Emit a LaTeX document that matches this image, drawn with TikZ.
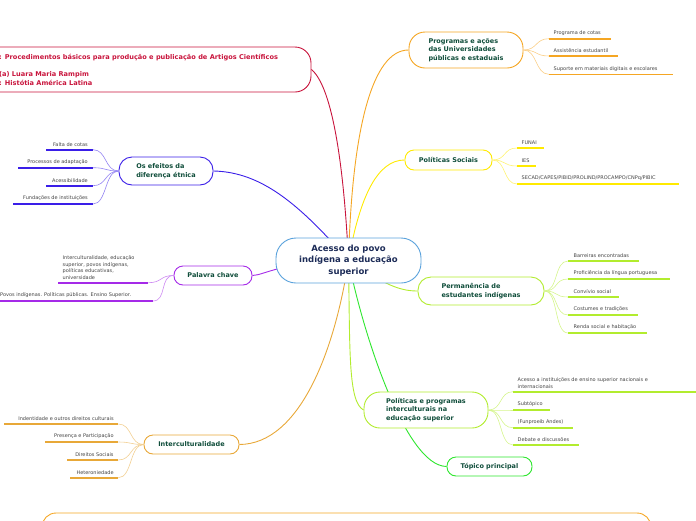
\documentclass[tikz,border=0pt]{standalone}
\usepackage{fontspec}
\setmainfont{DejaVu Sans}
\usetikzlibrary{backgrounds}
\definecolor{centralc}{HTML}{5AA2DC}
\definecolor{centraltext}{HTML}{1C2B57}
\definecolor{topictext}{HTML}{0F4D3A}
\definecolor{leaftext}{HTML}{444444}
\definecolor{infoc}{HTML}{C8143C}
\definecolor{progc}{HTML}{F5A623}
\definecolor{socialc}{HTML}{FFEA00}
\definecolor{limec}{HTML}{B2EC2E}
\definecolor{greenc}{HTML}{2EE62E}
\definecolor{bluec}{HTML}{3A1EE8}
\definecolor{purplec}{HTML}{A52AE8}
\definecolor{interc}{HTML}{E8A838}
\tikzset{central/.style={draw=centralc, line width=0.9pt, fill=white, rounded corners=20pt, minimum width=145pt, minimum height=45pt, align=center, text=centraltext, font=\bfseries\fontsize{8.5}{11.5}\selectfont},
  topic/.style={draw=#1, line width=0.9pt, fill=white, align=left, inner sep=0pt, text=topictext, font=\bfseries\fontsize{6.5}{8.5}\selectfont},
  leaf/.style={inner sep=0.5pt, align=left, text=leaftext, font=\fontsize{5}{6.6}\selectfont},
  under/.style={draw=#1, line width=1.6pt},
  branch/.style={draw=#1, line width=0.9pt},
  twig/.style={draw=#1!55, line width=0.6pt}}

\begin{document}
\begin{tikzpicture}[x=1pt, y=-1pt]
  \useasboundingbox (0,0) rectangle (696,520);
  \clip (0,0) rectangle (696,520);

  % main idea and its topics
  \node [central] (root) at (348.5,260.5) {Acesso do povo\\indígena a educação\\superior};
  \node [draw=infoc, line width=0.9pt, rounded corners=16pt, minimum width=360pt, minimum height=45pt] (info) at (131,69.5) {};
  \node [anchor=west, align=left, inner sep=0pt, text=infoc, font=\bfseries\fontsize{6.6}{8.5}\selectfont] (infotext) at (-1,70)
    {: Procedimentos básicos para produção e publicação de Artigos Científicos\\[8.5pt](a) Luara Maria Rampim\\: Histótia América Latina};
  \node [topic=progc, rounded corners=16pt, minimum width=114pt, minimum height=36pt] (prog) at (466,50) {Programas e ações\\das Universidades\\públicas e estaduais};
  \node [topic=socialc, rounded corners=9pt, minimum width=87pt, minimum height=20pt] (social) at (448.5,160) {Políticas Sociais};
  \node [topic=limec, rounded corners=13pt, minimum width=126pt, minimum height=28pt] (perm) at (481,291) {Permanência de\\estudantes indígenas};
  \node [topic=limec, rounded corners=16pt, minimum width=124pt, minimum height=36pt] (polit) at (426,410) {Políticas e programas\\interculturais na\\educação superior};
  \node [topic=greenc, rounded corners=9pt, minimum width=85pt, minimum height=19pt] (topico) at (489.5,466.5) {Tópico principal};
  \node [topic=bluec, rounded corners=13pt, minimum width=94pt, minimum height=28pt] (efeitos) at (166,171) {Os efeitos da\\diferença étnica};
  \node [topic=purplec, rounded corners=9pt, minimum width=78pt, minimum height=19pt] (palavra) at (213,275.5) {Palavra chave};
  \node [topic=interc, rounded corners=9pt, minimum width=95pt, minimum height=19pt] (inter) at (191.5,444.5) {Interculturalidade};
  \node [draw=progc, line width=0.9pt, rounded corners=14pt, minimum width=609pt, minimum height=40pt] (extra) at (346.5,533) {};

  \begin{scope}[on background layer]
    \draw [branch=infoc] (root.center) .. controls (343,150) and (330,85) .. (info.east);
    \draw [branch=progc] (root.center) .. controls (352,130) and (372,50) .. (prog.west);
    \draw [branch=socialc] (root.center) .. controls (360,195) and (378,160) .. (social.west);
    \draw [branch=limec] (root.center) .. controls (385,285) and (400,291) .. (perm.west);
    \draw [branch=limec] (root.center) .. controls (350,350) and (348,402) .. (polit.west);
    \draw [branch=greenc] (root.center) .. controls (362,330) and (405,466) .. (topico.west);
    \draw [branch=bluec] (root.center) .. controls (300,205) and (262,172) .. (efeitos.east);
    \draw [branch=purplec] (root.center) .. controls (280,262) and (265,275) .. (palavra.east);
    \draw [branch=interc] (root.center) .. controls (335,350) and (300,444) .. (inter.east);
  \end{scope}

  % leaves on the right
  \foreach \t/\y/\e [count=\i] in {Programa de cotas/38.7/611, Assistência estudantil/56/618, Suporte em materiais digitais e escolares/74.3/673} {
    \coordinate (prog-u\i) at (549,\y);
    \node [leaf, anchor=south west] (prog-\i) at (553,\y-2.4) {\t};
    \draw [under=progc] (prog-u\i) -- (\e,\y);
    \draw [twig=progc] (prog.east) .. controls +(14,0) and +(-14,0) .. (prog-u\i);
  }
  \foreach \t/\y/\e [count=\i] in {FUNAI/148/544, IES/166/536, {SECAD/CAPES/PIBID/PROLIND/PROCAMPO/CNPq/PIBIC}/184/679} {
    \coordinate (social-u\i) at (517,\y);
    \node [leaf, anchor=south west] (social-\i) at (521,\y-2.4) {\t};
    \draw [under=socialc] (social-u\i) -- (\e,\y);
    \draw [twig=socialc] (social.east) .. controls +(14,0) and +(-14,0) .. (social-u\i);
  }
  \foreach \t/\y/\e [count=\i] in {Barreiras encontradas/261/639, Proficiência da língua portuguesa/279/670, Convívio social/297/619, Costumes e tradições/315/638, Renda social e habitação/333/647} {
    \coordinate (perm-u\i) at (568,\y);
    \node [leaf, anchor=south west] (perm-\i) at (573,\y-2.4) {\t};
    \draw [under=limec] (perm-u\i) -- (\e,\y);
    \draw [twig=limec] (perm.east) .. controls +(14,0) and +(-14,0) .. (perm-u\i);
  }
  \foreach \t/\y/\e [count=\i] in {{Acesso a instituições de ensino superior nacionais e\\internacionais}/391.7/696, Subtópico/410/550, (Funproeib Andes)/427.7/573, Debate e discussões/445/579} {
    \coordinate (polit-u\i) at (513,\y);
    \node [leaf, anchor=south west] (polit-\i) at (517,\y-2.4) {\t};
    \draw [under=limec] (polit-u\i) -- (\e,\y);
    \draw [twig=limec] (polit.east) .. controls +(14,0) and +(-14,0) .. (polit-u\i);
  }

  % leaves on the left
  \foreach \t/\y/\s [count=\i] in {Falta de cotas/149.7/45.7, Processos de adaptação/167.7/18.3, Acessibilidade/185.7/45.7, Fundações de instituições/204/13.3} {
    \coordinate (efeitos-u\i) at (93,\y);
    \node [leaf, anchor=south east] (efeitos-\i) at (88.5,\y-2.4) {\t};
    \draw [under=bluec] (efeitos-u\i) -- (\s,\y);
    \draw [twig=bluec] (efeitos.west) .. controls +(-14,0) and +(14,0) .. (efeitos-u\i);
  }
  \foreach \t/\y/\s [count=\i] in {Indentidade e outros direitos culturais/424/4, Presença e Participação/442/45, Direitos Sociais/460/66.7, Heteroniedade/477.7/70} {
    \coordinate (inter-u\i) at (118.3,\y);
    \node [leaf, anchor=south east] (inter-\i) at (114.3,\y-2.4) {\t};
    \draw [under=interc] (inter-u\i) -- (\s,\y);
    \draw [twig=interc] (inter.west) .. controls +(-14,0) and +(14,0) .. (inter-u\i);
  }
  \coordinate (palavra-u1) at (148.3,282.7);
  \coordinate (palavra-u2) at (153,301);
  \node [leaf, anchor=south west] (palavra-1) at (62,280.3) {Interculturalidade, educação\\superior, povos indígenas,\\políticas educativas,\\universidade};
  \node [leaf, anchor=south west] (palavra-2) at (-0.5,298.6) {Povos indígenas. Políticas públicas. Ensino Superior.};
  \draw [under=purplec] (palavra-u1) -- (58.3,282.7) (palavra-u2) -- (0,301);
  \draw [twig=purplec] (palavra.west) .. controls +(-14,0) and +(14,0) .. (palavra-u1);
  \draw [twig=purplec] (palavra.west) .. controls +(-14,0) and +(14,0) .. (palavra-u2);
\end{tikzpicture}
\end{document}
